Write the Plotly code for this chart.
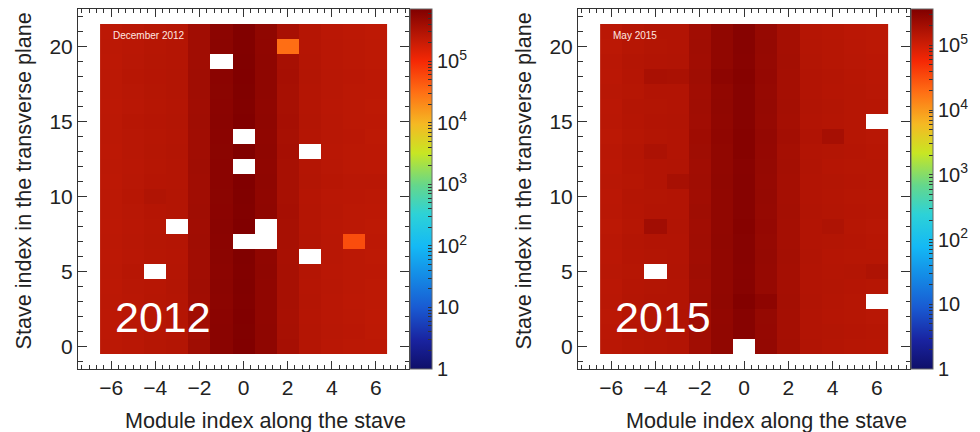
import numpy as np
import plotly.graph_objects as go

# Module index (x) and stave index (y)
modules = list(range(-6, 7))
staves = list(range(0, 22))

# Hit counts in thousands, rows = stave 0..21, columns = module -6..6 (None = dead module)
counts_2012_k = [
    [255, 262, 280, 290, 410, 600, 700, 550, 365, 285, 262, 252, 248],
    [250, 268, 276, 282, 395, 590, 690, 545, 360, 288, 268, 258, 245],
    [248, 265, 272, 288, 402, 585, 695, 540, 355, 282, 265, 255, 242],
    [252, 262, 278, 285, 398, 578, 688, 535, 362, 286, 262, 250, 246],
    [250, 266, 274, 290, 405, 582, 692, 538, 358, 284, 266, 254, 244],
    [254, 270, None, 286, 400, 575, 685, 542, 360, 288, 264, 256, 248],
    [248, 264, 276, 284, 396, 580, 690, 536, 356, None, 268, 252, 244],
    [252, 266, 280, 288, 404, 586, None, None, 362, 290, 266, 55, 250],
    [250, 262, 278, None, 398, 590, 694, None, 358, 286, 262, 254, 246],
    [256, 268, 284, 290, 406, 584, 688, 544, 364, 288, 266, 256, 250],
    [252, 270, 305, 292, 402, 580, 690, 540, 360, 284, 264, 258, 252],
    [250, 266, 282, 288, 400, 588, 696, 546, 362, 290, 270, 262, 262],
    [254, 264, 278, 286, 404, 584, None, 540, 358, 286, 266, 256, 250],
    [250, 268, 280, 290, 398, 580, 692, 544, 364, None, 264, 254, 248],
    [252, 266, 276, 286, 402, 586, None, 538, 360, 288, 268, 258, 246],
    [256, 270, 282, 292, 406, 590, 694, 546, 366, 290, 266, 256, 250],
    [250, 264, 278, 288, 400, 584, 688, 540, 358, 286, 262, 252, 246],
    [252, 268, 280, 290, 404, 580, 692, 544, 362, 288, 266, 256, 248],
    [254, 270, 284, 292, 406, 588, 696, 548, 366, 290, 268, 258, 250],
    [250, 266, 280, 288, 402, None, 690, 542, 360, 286, 264, 254, 246],
    [252, 264, 278, 286, 398, 582, 688, 538, 32, 284, 262, 252, 244],
    [248, 262, 276, 284, 396, 578, 684, 534, 356, 282, 260, 250, 242],
]

counts_2015_k = [
    [142, 150, 154, 160, 212, 272, None, 262, 200, 162, 154, 150, 146],
    [140, 152, 156, 158, 215, 276, 322, 258, 198, 160, 156, 152, 148],
    [138, 150, 154, 162, 210, 270, 326, 256, 196, 158, 152, 148, 144],
    [142, 154, 158, 160, 214, 278, 345, 290, 200, 162, 154, 150, None],
    [140, 152, 156, 158, 212, 274, 324, 254, 198, 160, 156, 152, 150],
    [144, 150, None, 162, 216, 276, 320, 252, 196, 158, 154, 156, 170],
    [140, 152, 156, 160, 212, 272, 326, 256, 200, 162, 152, 150, 148],
    [142, 154, 158, 158, 214, 278, 322, 254, 198, 160, 156, 152, 146],
    [138, 150, 210, 162, 210, 274, 328, 258, 196, 158, 170, 150, 144],
    [142, 152, 158, 160, 216, 276, 324, 254, 200, 162, 156, 152, 148],
    [140, 154, 156, 158, 212, 272, 322, 256, 198, 160, 154, 150, 146],
    [144, 150, 160, 190, 214, 278, 326, 252, 196, 158, 156, 152, 150],
    [140, 152, 158, 162, 210, 274, 320, 256, 200, 162, 152, 150, 148],
    [142, 154, 175, 160, 216, 276, 328, 258, 198, 160, 156, 152, 146],
    [138, 150, 156, 158, 218, 280, 330, 262, 204, 164, 195, 150, 144],
    [142, 152, 158, 162, 212, 272, 324, 254, 196, 158, 154, 148, None],
    [140, 154, 156, 160, 214, 278, 322, 256, 200, 162, 156, 150, 146],
    [144, 150, 160, 158, 210, 274, 326, 252, 198, 160, 152, 148, 144],
    [140, 152, 185, 180, 216, 295, 328, 258, 196, 158, 154, 146, 142],
    [142, 154, 158, 162, 212, 276, 320, 254, 200, 156, 150, 144, 140],
    [138, 150, 156, 160, 214, 272, 324, 256, 198, 154, 148, 142, 138],
    [140, 152, 158, 158, 210, 274, 322, 252, 196, 152, 146, 140, 136],
]

panel_labels = ["2012", "2015"]
panel_dates = ["December 2012", "May 2015"]
x_title = "Module index along the stave"
y_title = "Stave index in the transverse plane"
cbar_tickvals = [0, 1, 2, 3, 4, 5]
cbar_ticktext = ["1", "10", "10<sup>2</sup>", "10<sup>3</sup>", "10<sup>4</sup>", "10<sup>5</sup>"]
zmax_log = [5.85, 5.56]

palette = [
    [0.00, "rgb(15,15,105)"],
    [0.08, "rgb(25,35,160)"],
    [0.17, "rgb(25,90,210)"],
    [0.26, "rgb(20,140,230)"],
    [0.34, "rgb(20,185,245)"],
    [0.43, "rgb(45,210,215)"],
    [0.51, "rgb(100,215,140)"],
    [0.60, "rgb(200,230,35)"],
    [0.68, "rgb(245,185,35)"],
    [0.77, "rgb(255,110,20)"],
    [0.855, "rgb(245,40,5)"],
    [0.92, "rgb(190,25,5)"],
    [1.00, "rgb(128,0,0)"],
]

FONT = "Liberation Sans, Arial, Helvetica, sans-serif"
W, H = 980, 432


def to_log(mat):
    out = []
    for row in mat:
        out.append([None if v is None else float(np.log10(v * 1000.0)) for v in row])
    return out


# minor colorbar ticks
minor_vals = []
minor_txt = []
for d in range(0, 6):
    for m in range(2, 10):
        minor_vals.append(d + np.log10(m))
        minor_txt.append("")

# pixel layout
frames = [(78, 409), (578, 910)]
ftop, fbot = 9, 369
cb_x = [409.5, 910.5]
ytitle_x = [23, 523]

fig = go.Figure()
datasets = [counts_2012_k, counts_2015_k]
for i, data in enumerate(datasets):
    xa = "x" if i == 0 else "x2"
    ya = "y" if i == 0 else "y2"
    zl = to_log(data)
    fig.add_trace(go.Heatmap(
        x=modules, y=staves, z=zl,
        colorscale=palette, zmin=0, zmax=zmax_log[i],
        xaxis=xa, yaxis=ya, hoverongaps=False,
        colorbar=dict(
            x=cb_x[i] / W, xanchor="left", xpad=0, ypad=0,
            y=(H - fbot) / H, yanchor="bottom", len=(fbot - ftop) / H, lenmode="fraction",
            thickness=22, thicknessmode="pixels",
            outlinewidth=1, outlinecolor="#666",
            tickvals=cbar_tickvals + minor_vals,
            ticktext=cbar_ticktext + minor_txt,
            ticks="inside", ticklen=4, tickcolor="#333", tickwidth=1,
            tickfont=dict(family=FONT, size=20, color="#222"),
        ),
    ))

layout = dict(
    width=W, height=H,
    margin=dict(l=0, r=0, t=0, b=0),
    paper_bgcolor="white", plot_bgcolor="white",
    showlegend=False,
    font=dict(family=FONT, color="#222"),
)

annotations = []
for i in range(2):
    sfx = "" if i == 0 else "2"
    x0, x1 = frames[i]
    layout["xaxis" + sfx] = dict(
        domain=[x0 / W, x1 / W], range=[-7.5, 7.5], anchor="y" + sfx,
        dtick=2, tick0=0, ticks="inside", ticklen=8, tickwidth=1, tickcolor="#333",
        minor=dict(dtick=1 / 3, tick0=0, ticks="inside", ticklen=4, tickcolor="#333", tickwidth=1),
        showline=True, linecolor="#333", linewidth=1, mirror="allticks",
        showgrid=False, zeroline=False,
        tickfont=dict(family=FONT, size=21, color="#222"),
        automargin=False, fixedrange=True,
    )
    layout["yaxis" + sfx] = dict(
        domain=[(H - fbot) / H, (H - ftop) / H], range=[-1.5, 22.5], anchor="x" + sfx,
        dtick=5, tick0=0, ticks="inside", ticklen=9, tickwidth=1, tickcolor="#333",
        minor=dict(dtick=1, tick0=0, ticks="inside", ticklen=4.5, tickcolor="#333", tickwidth=1),
        showline=True, linecolor="#333", linewidth=1, mirror="allticks",
        showgrid=False, zeroline=False,
        tickfont=dict(family=FONT, size=21, color="#222"),
        automargin=False, fixedrange=True,
    )
    # axis titles, right/top aligned to the axis end (ROOT style)
    annotations.append(dict(
        x=(x1 - 1) / W, y=(H - 420) / H, xref="paper", yref="paper", text=x_title,
        showarrow=False, xanchor="right", yanchor="middle",
        font=dict(family=FONT, size=21.6, color="#222"),
    ))
    annotations.append(dict(
        x=ytitle_x[i] / W, y=(H - 11) / H, xref="paper", yref="paper", text=y_title,
        showarrow=False, xanchor="center", yanchor="top", textangle=-90,
        font=dict(family=FONT, size=21.6, color="#222"),
    ))
    annotations.append(dict(
        x=-6.0, y=20.75, xref="x" + sfx, yref="y" + sfx, text=panel_dates[i],
        showarrow=False, xanchor="left", yanchor="middle",
        font=dict(family=FONT, size=10, color="rgb(255,232,225)"),
    ))
    annotations.append(dict(
        x=-5.9, y=2.0, xref="x" + sfx, yref="y" + sfx, text=panel_labels[i],
        showarrow=False, xanchor="left", yanchor="middle",
        font=dict(family=FONT, size=43, color="white"),
    ))
layout["annotations"] = annotations

fig.update_layout(**layout)
fig.write_html("out.html")
